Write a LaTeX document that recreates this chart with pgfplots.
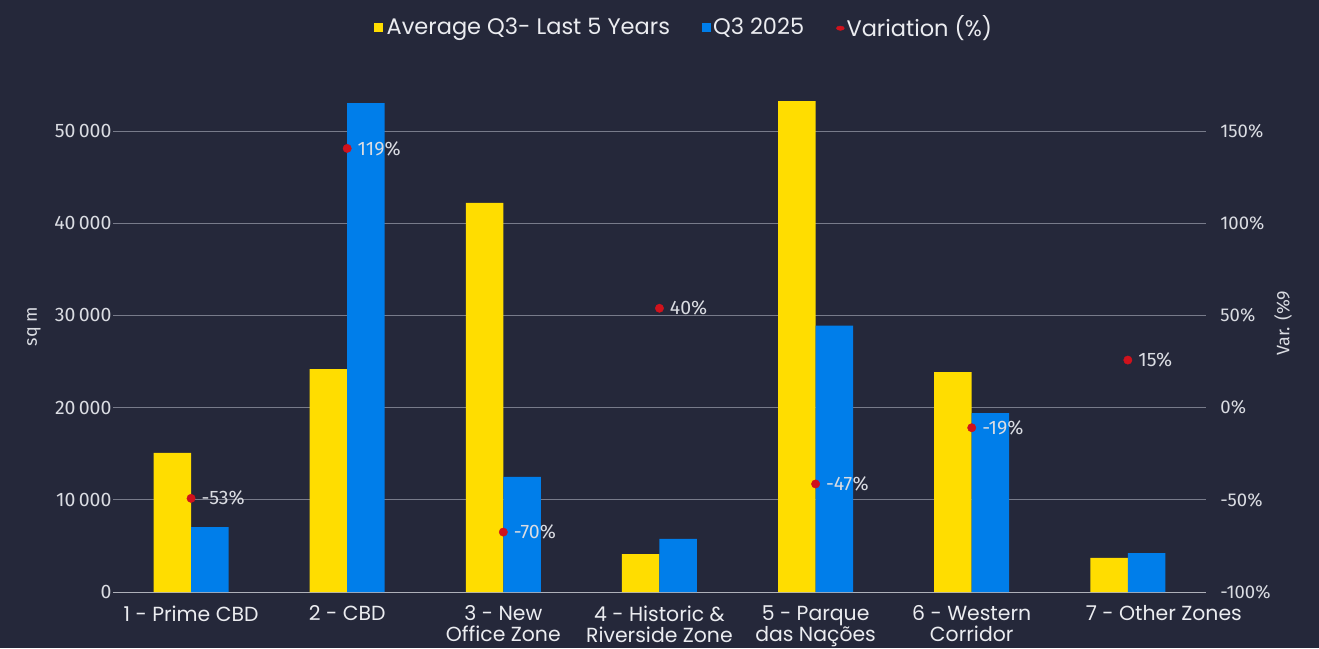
\documentclass[border=0pt]{standalone}
\usepackage{pgfplots}
\pgfplotsset{compat=1.18}
\usepackage{fontspec}
\setmainfont{Fira Sans}
\newfontfamily\popfont{Poppins}
\definecolor{bg}{RGB}{37,40,58}
\definecolor{ycol}{RGB}{255,221,0}
\definecolor{bcol}{RGB}{0,126,234}
\definecolor{rcol}{RGB}{208,18,28}
\definecolor{gridc}{RGB}{120,123,138}
\definecolor{txt}{RGB}{218,220,226}
\definecolor{legtxt}{RGB}{235,236,240}

\pgfplotstableread{
x avg q3
0 15080 7050
1 24190 53040
2 42200 12480
3 4120 5750
4 53250 28900
5 23860 19410
6 3690 4230
}\bars

\pgfplotstableread{
x v lab
0 -49.2 -53
1 140.6 119
2 -67.5 -70
3 53.9 40
4 -41.4 -47
5 -10.9 -19
6 25.8 15
}\vari

\begin{document}
\begin{tikzpicture}[x=1pt,y=1pt]
\fill[bg] (0,0) rectangle (1319,648);
\useasboundingbox (0,0) rectangle (1319,648);
\begin{axis}[
  at={(113pt,56pt)}, anchor=south west,
  scale only axis, width=1093pt, height=507pt,
  xmin=-0.5, xmax=6.5, ymin=0, ymax=55000,
  scaled y ticks=false,
  axis x line*=bottom, axis y line*=left,
  x axis line style={draw=gridc!60!white, line width=0.8pt},
  y axis line style={draw=none},
  ytick={0,10000,20000,30000,40000,50000},
  yticklabels={0,10\,000,20\,000,30\,000,40\,000,50\,000},
  ymajorgrids, grid style={gridc, line width=0.8pt},
  major tick length=0pt,
  xtick={0,...,6},
  xticklabels={1 - Prime CBD, 2 - CBD, 3 - New\\Office Zone, 4 - Historic \&\\Riverside Zone, 5 - Parque\\das Nações, 6 - Western\\Corridor, \hspace*{72pt}7 - Other Zones},
  xticklabel style={font=\popfont\fontsize{20.4}{21}\selectfont, text=legtxt, align=center, anchor=north, yshift=-10pt},
  yticklabel style={font=\fontsize{19.5}{20}\selectfont, text=txt, xshift=2pt},
  legend columns=3,
  legend style={at={(0.5224,1.114)}, anchor=center, draw=none, fill=none,
    font=\popfont\fontsize{22.5}{24}\selectfont, text=legtxt,
    /tikz/every odd column/.append style={column sep=0pt},
    /tikz/every even column/.append style={column sep=30pt}},
  legend image code/.code={\fill[#1] (0pt,-4.5pt) rectangle (9pt,4.5pt);},
  clip=false,
]
\addplot[ybar, bar width=0.24, bar shift=-0.12, fill=ycol, draw=none] table[x=x,y=avg] {\bars};
\addlegendentry{\hspace*{2pt}Average Q3- Last 5 Years}
\addplot[ybar, bar width=0.24, bar shift=0.12, fill=bcol, draw=none] table[x=x,y=q3] {\bars};
\addlegendentry{Q3 2025}
\addlegendimage{legend image code/.code={\fill[rcol] (5pt,-1pt) ellipse (4pt and 2.2pt);}}
\addlegendentry{Variation (\%)}
\node[rotate=90, text=txt, font=\fontsize{18}{20}\selectfont] at (rel axis cs:-0.0723,0.524) {sq m};
\node[rotate=90, text=txt, font=\fontsize{18}{20}\selectfont] at (rel axis cs:1.0705,0.530) {Var. (\%9};
\end{axis}
\begin{axis}[
  at={(113pt,56pt)}, anchor=south west,
  scale only axis, width=1093pt, height=507pt,
  xmin=-0.5, xmax=6.5, ymin=-100, ymax=175,
  axis x line=none, axis y line*=right,
  y axis line style={draw=none},
  major tick length=0pt,
  ytick={-100,-50,0,50,100,150},
  yticklabels={-100\%,-50\%,0\%,50\%,100\%,150\%},
  yticklabel style={font=\fontsize{18.5}{20}\selectfont, text=txt, xshift=11pt},
  clip=false,
]
\addplot[only marks, mark=*, mark size=4.2pt, color=rcol, mark options={fill=rcol, draw=rcol},
  point meta=explicit symbolic,
  nodes near coords={\pgfplotspointmeta\%},
  nodes near coords style={anchor=west, xshift=7pt, text=txt, font=\fontsize{19.5}{20}\selectfont}]
  table[x=x,y=v,meta=lab] {\vari};
\end{axis}
\end{tikzpicture}
\end{document}
